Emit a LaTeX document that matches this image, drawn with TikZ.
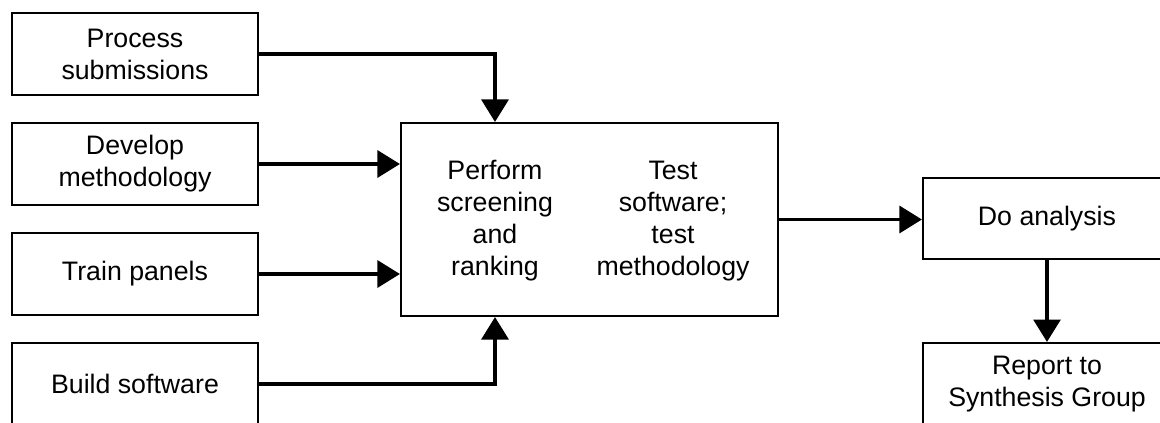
\documentclass[tikz,border=0pt]{standalone}
\usepackage{fontspec}
\setmainfont{Liberation Sans}
\usetikzlibrary{arrows.meta, positioning}

\begin{document}
\begin{tikzpicture}[x=0.025cm, y=-0.025cm,
    taskbox/.style={draw, line width=1.4pt, minimum width=6.15cm, minimum height=2.05cm,
                    align=center, font=\fontsize{19}{22.8}\selectfont},
    boxtext/.style={align=center, font=\fontsize{19}{22.8}\selectfont},
    flow/.style={-{Triangle[width=19pt, length=16pt]}, line width=2.8pt}]
            % Page frame, the right and lower boxes run off it
            \clip (0,0) rectangle (1160,422);

            % Input tasks on the left
            \node[taskbox] (process) at (135,54) {Process\\submissions};
            \node[taskbox] (develop) at (135,164) {Develop\\methodology};
            \node[taskbox] (train) at (135,274) {Train panels};
            \node[taskbox] (build) at (135,384) {Build software};

            % Central box with its two columns of text
            \node[taskbox, minimum width=9.425cm, minimum height=4.825cm] (screen) at (589.5,219.5) {};
            \node[boxtext] (perform) at (495,221) {Perform\\screening\\and\\ranking};
            \node[boxtext] (testsw) at (673,221) {Test\\software;\\test\\methodology};

            % Output tasks on the right
            \node[taskbox, minimum width=6.2cm, minimum height=2.025cm] (analysis) at (1047,218.5) {Do analysis};
            \node[taskbox, minimum width=6.2cm] (report) at (1047,384) {Report to\\Synthesis Group};

            % Flows into the central box
            \draw[flow] (process.east) -| (perform |- screen.north);
            \draw[flow] (develop.east) -- (develop.east -| screen.west);
            \draw[flow] (train.east) -- (train.east -| screen.west);
            \draw[flow] (build.east) -| (perform |- screen.south);

            % Flows out of it
            \draw[flow] (screen.east) -- (screen.east -| analysis.west);
            \draw[flow] (analysis.south) -- (report.north);
        \end{tikzpicture}
\end{document}
